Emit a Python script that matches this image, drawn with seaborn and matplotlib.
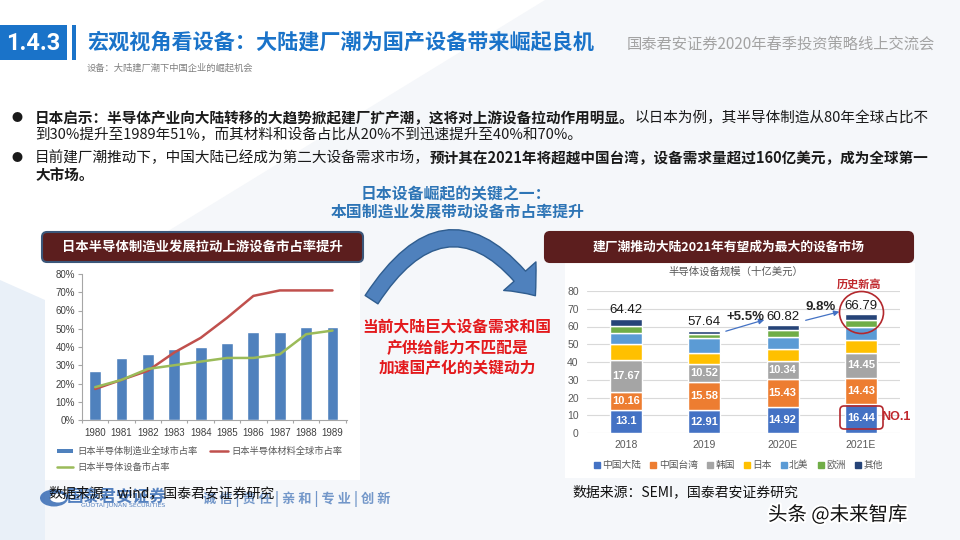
import numpy as np
import pandas as pd
import matplotlib
matplotlib.use('Agg')
import matplotlib.pyplot as plt
import seaborn as sns
from matplotlib.patches import Rectangle, FancyBboxPatch, FancyArrowPatch, Ellipse, Polygon
from matplotlib.lines import Line2D
import matplotlib.patheffects as pe

# left chart: Japan market share 1980-1989 (%)
years = ['1980', '1981', '1982', '1983', '1984', '1985', '1986', '1987', '1988', '1989']
mfg_share = [27, 34, 36, 39, 40, 42, 48, 48, 51, 51]
material_share = [17, 22, 27, 37, 45, 56, 68, 71, 71, 71]
equip_share = [18, 22, 28, 30, 32, 34, 34, 36, 47, 49]
left_labels = ['日本半导体制造业全球市占率', '日本半导体材料全球市占率', '日本半导体设备市占率']

# right chart: semiconductor equipment market by region (bn USD)
periods = ['2018', '2019', '2020E', '2021E']
regions = ['中国大陆', '中国台湾', '韩国', '日本', '北美', '欧洲', '其他']
china = [13.1, 12.91, 14.92, 16.44]
taiwan = [10.16, 15.58, 15.43, 14.43]
korea = [17.67, 10.52, 10.34, 14.45]
japan = [9.47, 6.27, 6.6, 7.2]
north_america = [5.83, 8.15, 7.0, 7.0]
europe = [4.22, 2.28, 3.6, 4.0]
others = [3.97, 1.93, 2.93, 3.27]
totals = [64.42, 57.64, 60.82, 66.79]
region_colors = ['#4472C4', '#ED7D31', '#A5A5A5', '#FFC000', '#5B9BD5', '#70AD47', '#264478']

sns.set_theme(style='white')
plt.rcParams['font.family'] = ['Noto Sans CJK SC', 'DejaVu Sans']
NUM = ['Liberation Sans', 'Noto Sans CJK SC']

W, H = 960, 540
fig = plt.figure(figsize=(9.6, 5.4), dpi=100)
fig.patch.set_facecolor('white')
bg = fig.add_axes([0, 0, 1, 1])
bg.set_xlim(0, W)
bg.set_ylim(H, 0)
bg.axis('off')


def px_axes(x0, y0, x1, y1):
    return fig.add_axes([x0 / W, 1 - y1 / H, (x1 - x0) / W, (y1 - y0) / H])


# faint slide background
bg.add_patch(Polygon([(545, 0), (960, 0), (960, 540), (0, 540), (0, 334)], closed=True, color='#F5F7FA', lw=0))
bg.add_patch(Polygon([(0, 280), (45, 300), (45, 540), (0, 540)], closed=True, color='#E9F0F8', lw=0))
bg.add_patch(Rectangle((45, 263), 315, 217, color='white', lw=0))
bg.add_patch(Rectangle((565, 263), 350, 215, color='white', lw=0))

# header
bg.add_patch(Rectangle((0, 25), 67, 35, color='#1A73C9', lw=0))
bg.add_patch(Rectangle((72, 25), 4, 35, color='#1A73C9', lw=0))
bg.text(33.5, 43, '1.4.3', color='white', fontsize=17, fontweight='bold', ha='center', va='center',
        family=['Roboto', 'DejaVu Sans'])
bg.text(87, 42, '宏观视角看设备：大陆建厂潮为国产设备带来崛起良机', color='#1A73C9', fontsize=15.2,
        fontweight='bold', ha='left', va='center')
bg.text(87, 68, '设备：大陆建厂潮下中国企业的崛起机会', color='#7F7F7F', fontsize=6.7, ha='left', va='center')
bg.text(935, 44, '国泰君安证券2020年春季投资策略线上交流会', color='#A3A3A3', fontsize=11, ha='right', va='center')

# bullets with mixed bold / normal text
renderer = fig.canvas.get_renderer()


def rich_line(x, y, parts, size=10.5):
    for s, bold in parts:
        t = bg.text(x, y, s, fontsize=size, fontweight='bold' if bold else 'normal',
                    ha='left', va='center', color='#1A1A1A')
        x += t.get_window_extent(renderer=renderer).width


bg.text(17, 118, '●', fontsize=8, ha='center', va='center', color='#1A1A1A')
bg.text(17, 158, '●', fontsize=8, ha='center', va='center', color='#1A1A1A')
rich_line(35, 118, [('日本启示：半导体产业向大陆转移的大趋势掀起建厂扩产潮，这将对上游设备拉动作用明显。', True),
                    ('以日本为例，其半导体制造从80年全球占比不', False)])
rich_line(35, 135, [('到30%提升至1989年51%，而其材料和设备占比从20%不到迅速提升至40%和70%。', False)])
rich_line(35, 158, [('目前建厂潮推动下，中国大陆已经成为第二大设备需求市场，', False),
                    ('预计其在2021年将超越中国台湾，设备需求量超过160亿美元，成为全球第一', True)])
rich_line(35, 175, [('大市场。', True)])

# centre texts
bg.text(456, 193, '日本设备崛起的关键之一：', color='#2E75B6', fontsize=11.4, fontweight='bold', ha='center', va='center')
bg.text(458, 212, '本国制造业发展带动设备市占率提升', color='#2E75B6', fontsize=11.4, fontweight='bold', ha='center', va='center')
for yy, s in zip([327, 348, 368], ['当前大陆巨大设备需求和国', '产供给能力不匹配是', '加速国产化的关键动力']):
    bg.text(457, yy, s, color='#E3191C', fontsize=11.3, fontweight='bold', ha='center', va='center')

# big curved arrow
bg.add_patch(FancyArrowPatch((370, 302), (537, 298), connectionstyle='arc3,rad=-0.74',
                             arrowstyle='simple,head_length=0.9,head_width=1.55,tail_width=0.55',
                             mutation_scale=20, fc='#4F81BD', ec='#2F5D8F', lw=1, zorder=3))

# banners
for x0, x1, label, fs, ec in [(42, 363, '日本半导体制造业发展拉动上游设备市占率提升', 9.6, '#3B5679'),
                              (545, 913, '建厂潮推动大陆2021年有望成为最大的设备市场', 9.2, '#5C1E1E')]:
    bg.add_patch(FancyBboxPatch((x0, 232), x1 - x0, 30, boxstyle='round,pad=0,rounding_size=5',
                                fc='#5C1E1E', ec=ec, lw=1.5))
    bg.text((x0 + x1) / 2, 247, label, color='white', fontsize=fs, fontweight='bold', ha='center', va='center')

# ---------------- left chart ----------------
ax1 = px_axes(82, 274, 347, 420)
left_df = pd.DataFrame({'year': years, 'share': mfg_share})
sns.barplot(data=left_df, x='year', y='share', color='#4F81BD', saturation=1, width=0.45,
            errorbar=None, ax=ax1)
xs = np.arange(len(years))
sns.lineplot(x=xs, y=material_share, color='#C0504D', lw=1.8, ax=ax1)
sns.lineplot(x=xs, y=equip_share, color='#9BBB59', lw=1.8, ax=ax1)
ax1.set_xlim(-0.45, 9.55)
ax1.set_ylim(0, 80)
ax1.set_yticks(range(0, 81, 10))
ax1.set_yticklabels([f'{v}%' for v in range(0, 81, 10)])
ax1.set_xlabel('')
ax1.set_ylabel('')
ax1.set_facecolor('none')
for s in ['top', 'right']:
    ax1.spines[s].set_visible(False)
for s in ['left', 'bottom']:
    ax1.spines[s].set_color('#A6A6A6')
    ax1.spines[s].set_linewidth(0.8)
ax1.tick_params(axis='y', left=True, length=3, width=0.8, color='#A6A6A6', pad=2,
                labelsize=7, labelcolor='#404040')
ax1.set_xticks(np.arange(-0.5, 10, 1), minor=True)
ax1.tick_params(axis='x', which='major', length=0, pad=6, labelsize=7, labelcolor='#404040')
ax1.tick_params(axis='x', which='minor', bottom=True, length=2.5, width=0.8, color='#A6A6A6')
for lab in ax1.get_xticklabels() + ax1.get_yticklabels():
    lab.set_fontfamily(NUM)

# left legend
bg.add_patch(Rectangle((57, 449), 16, 4, color='#4F81BD', lw=0))
bg.plot([210, 228], [451, 451], color='#C0504D', lw=1.8)
bg.plot([57, 73], [467, 467], color='#9BBB59', lw=1.8)
bg.text(77, 451, left_labels[0], fontsize=6.7, color='#595959', va='center')
bg.text(231, 451, left_labels[1], fontsize=6.7, color='#595959', va='center')
bg.text(77, 467, left_labels[2], fontsize=6.7, color='#595959', va='center')

# ---------------- right chart ----------------
ax2 = px_axes(587, 291, 900, 433)
stack = [china, taiwan, korea, japan, north_america, europe, others]
base = np.zeros(len(periods))
for name, vals, col in zip(regions, stack, region_colors):
    sns.barplot(x=periods, y=vals, color=col, saturation=1, width=0.41, bottom=base.copy(),
                errorbar=None, ax=ax2)
    base += np.array(vals)
for i in range(len(periods)):
    cum = 0
    for vals in stack[:3]:
        ax2.text(i, cum + vals[i] / 2, f'{vals[i]:g}', ha='center', va='center', color='white',
                 fontsize=8, fontweight='bold', family=NUM)
        cum += vals[i]
    ax2.text(i, totals[i] + 1.3, f'{totals[i]:.2f}', ha='center', va='bottom', color='#1A1A1A',
             fontsize=9.5, family=NUM)
ax2.set_xlim(-0.5, 3.5)
ax2.set_ylim(0, 80)
ax2.set_yticks(range(0, 81, 10))
ax2.set_xlabel('')
ax2.set_ylabel('')
ax2.set_facecolor('none')
ax2.yaxis.grid(True, color='#D9D9D9', lw=0.8)
ax2.set_axisbelow(True)
for s in ax2.spines.values():
    s.set_visible(False)
ax2.tick_params(axis='y', length=0, pad=6, labelsize=7.5, labelcolor='#595959')
ax2.tick_params(axis='x', length=0, pad=5, labelsize=7.5, labelcolor='#595959')
for lab in ax2.get_xticklabels() + ax2.get_yticklabels():
    lab.set_fontfamily(NUM)

# growth arrows
ax2.annotate('', xy=(1.80, 64.2), xytext=(1.24, 56.9), annotation_clip=False,
             arrowprops=dict(arrowstyle='-|>', color='#4472C4', lw=0.9, mutation_scale=8))
ax2.annotate('', xy=(2.76, 68.7), xytext=(2.26, 63.1), annotation_clip=False,
             arrowprops=dict(arrowstyle='-|>', color='#4472C4', lw=0.9, mutation_scale=8))
ax2.text(1.52, 65.6, '+5.5%', ha='center', va='center', fontsize=9.5, fontweight='bold', family=NUM)
ax2.text(2.48, 70.9, '9.8%', ha='center', va='center', fontsize=9.5, fontweight='bold', family=NUM)

bg.text(736, 272, '半导体设备规模（十亿美元）', fontsize=7.5, color='#595959', ha='center', va='center')
handles = [Line2D([], [], ls='', marker='s', ms=4, color=c) for c in region_colors]
fig.legend(handles, regions, loc='center', bbox_to_anchor=(738 / W, 1 - 465 / H), ncol=7, frameon=False,
           fontsize=7, handlelength=0.7, handletextpad=0.2, columnspacing=0.9, labelcolor='#595959')

# sources and logo (the source line sits over the faint logo, as on the slide)
bg.add_patch(Ellipse((54, 498), 28, 17, fc='#2B62B0', ec='none', alpha=0.8))
bg.add_patch(Ellipse((58, 498), 16, 9, fc='white', ec='none'))
bg.text(117, 497, '国泰君安证券', fontsize=12, fontweight='bold', color='#2B62B0', alpha=0.8, ha='center', va='center')
bg.text(123, 506, 'GUOTAI JUNAN SECURITIES', fontsize=4.5, color='#2B62B0', alpha=0.8, ha='center', va='center',
        family=['DejaVu Sans'])
bg.text(297, 499, '诚 信 | 责 任 | 亲 和 | 专 业 | 创 新', fontsize=9.5, fontweight='bold', color='#3C6FB5',
        alpha=0.7, ha='center', va='center')
bg.text(48, 493, '数据来源：wind，国泰君安证券研究', fontsize=10, color='#111111', ha='left', va='center')
bg.text(572, 492, '数据来源：SEMI，国泰君安证券研究', fontsize=10, color='#111111', ha='left', va='center')

# overlay annotations
top = fig.add_axes([0, 0, 1, 1])
top.set_xlim(0, W)
top.set_ylim(H, 0)
top.axis('off')
top.add_patch(Ellipse((861.5, 312.5), 44, 42, fc='none', ec='#B3282D', lw=1.2))
top.add_patch(FancyBboxPatch((840, 406), 43, 23, boxstyle='round,pad=0,rounding_size=4',
                             fc='none', ec='#B3282D', lw=1.2))
top.text(859, 284, '历史新高', fontsize=8, fontweight='bold', color='#C0282D', ha='center', va='center')
top.text(896, 417, 'NO.1', fontsize=9, fontweight='bold', color='#C0282D', ha='center', va='center', family=NUM)
top.text(768, 515, '头条 @未来智库', fontsize=14, color='#111111', ha='left', va='center',
         path_effects=[pe.withStroke(linewidth=3, foreground='white')])

fig.savefig('out.png', dpi=100)
